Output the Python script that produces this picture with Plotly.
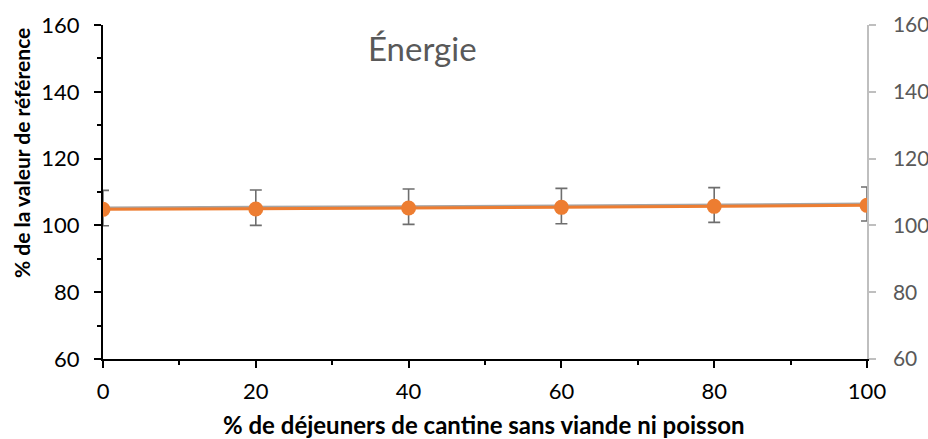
import plotly.graph_objects as go

# Share of meat/fish-free canteen lunches (%)
part_sans_viande = [0, 20, 40, 60, 80, 100]
# Energy intake as % of the reference value
energie = [104.8, 104.9, 105.2, 105.4, 105.7, 106.0]
energie_gris = [105.2, 105.3, 105.6, 105.8, 106.1, 106.4]
erreur = [5.3, 5.3, 5.3, 5.3, 5.2, 5.1]

FONT = "Lato"
ORANGE = "#ED7D31"
GRIS = "#A5A5A5"

fig = go.Figure()

# grey series with its error bars, drawn first (underneath)
fig.add_trace(go.Scatter(
    x=part_sans_viande, y=energie_gris, mode="lines",
    line=dict(color=GRIS, width=3),
    error_y=dict(type="data", array=erreur, visible=True,
                 color="#6E6E6E", thickness=1.6, width=6),
    showlegend=False, hoverinfo="skip",
))
# orange series on the secondary axis, drawn on top
fig.add_trace(go.Scatter(
    x=part_sans_viande, y=energie, mode="lines+markers",
    line=dict(color=ORANGE, width=3),
    marker=dict(color=ORANGE, size=15),
    yaxis="y2", showlegend=False,
))

fig.update_layout(
    width=928, height=439,
    margin=dict(l=103, r=61, t=25, b=80),
    paper_bgcolor="white", plot_bgcolor="white",
    font=dict(family=FONT, size=22, color="#000000"),
    xaxis=dict(
        range=[0, 100], tickvals=[0, 20, 40, 60, 80, 100],
        showgrid=False, zeroline=False, automargin=False,
        showline=True, linecolor="#000000", linewidth=2,
        ticks="outside", ticklen=7, tickwidth=2, tickcolor="#000000",
        minor=dict(ticks="outside", ticklen=4, tickwidth=2,
                   tickcolor="#000000", dtick=10, showgrid=False),
        ticklabelstandoff=5,
        tickfont=dict(size=22, color="#000000"),
    ),
    yaxis=dict(
        range=[60, 160], tickvals=[60, 80, 100, 120, 140, 160],
        showgrid=False, zeroline=False, automargin=False,
        showline=True, linecolor="#000000", linewidth=2,
        ticks="outside", ticklen=7, tickwidth=2, tickcolor="#000000",
        minor=dict(ticks="outside", ticklen=4, tickwidth=2,
                   tickcolor="#000000", dtick=10, showgrid=False),
        ticklabelstandoff=10,
        tickfont=dict(size=22, color="#000000"),
    ),
    yaxis2=dict(
        range=[60, 160], tickvals=[60, 80, 100, 120, 140, 160],
        overlaying="y", side="right", automargin=False,
        showgrid=False, zeroline=False,
        showline=True, linecolor="#BFBFBF", linewidth=1.5,
        ticks="outside", ticklen=7, tickwidth=1.5, tickcolor="#BFBFBF",
        ticklabelstandoff=13,
        tickfont=dict(size=21, color="#595959"),
    ),
    annotations=[
        dict(text="Énergie", x=422, y=48, showarrow=False,
             font=dict(family=FONT, size=33, color="#595959")),
        dict(text="<b>% de déjeuners de cantine sans viande ni poisson</b>",
             x=484, y=424, showarrow=False,
             font=dict(family=FONT, size=24, color="#000000")),
        dict(text="<b>% de la valeur de référence</b>",
             x=21, y=153, showarrow=False, textangle=-90,
             font=dict(family=FONT, size=21, color="#000000")),
    ],
)

# Place the text annotations in pixel coordinates of the page
W, H = 928, 439
L, R, T, B = 103, 61, 25, 80
pw, ph = W - L - R, H - T - B
for a in fig.layout.annotations:
    a.xref = "paper"
    a.yref = "paper"
    a.x = (a.x - L) / pw
    a.y = 1 - (a.y - T) / ph
    a.xanchor = "center"
    a.yanchor = "middle"

# keep the page free of default margins and scrollbars
page_js = ("document.documentElement.style.overflow='hidden';"
           "document.body.style.margin='0';"
           "document.body.style.overflow='hidden';")
fig.write_html("out.html", post_script=page_js)
